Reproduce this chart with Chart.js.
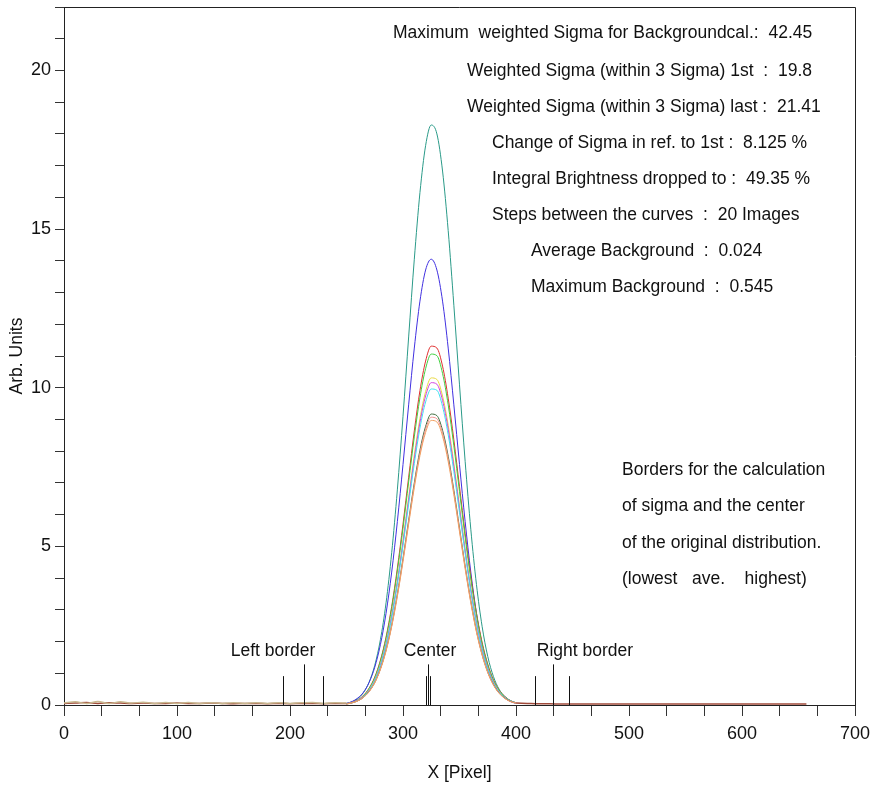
<!DOCTYPE html>
<html>
<head>
<meta charset="utf-8">
<script src="https://cdn.jsdelivr.net/npm/chart.js@4/dist/chart.umd.min.js"></script>
<style>
  html, body { margin: 0; padding: 0; background: #fff; }
  #wrap { width: 876px; height: 788px; }
</style>
</head>
<body>
<div id="wrap"><canvas id="chart" width="876" height="788"></canvas></div>
<script>
// x positions (pixel) of the sampled profile points
const peakX = [250, 255, 260, 265, 270, 275, 280, 285, 290, 295, 300, 305, 310, 315, 320,
  325, 330, 335, 340, 345, 350, 355, 360, 365, 370, 375, 380, 385, 390, 395, 400];

// profiles, one per curve
const tealCurve = [0.05, 0.10, 0.20, 0.39, 0.72, 1.25, 2.06, 3.22, 4.80, 6.78, 9.10, 11.60, 14.05, 16.15, 17.63,
  18.28, 18.00, 16.83, 14.95, 12.60, 10.09, 7.68, 5.54, 3.80, 2.48, 1.53, 0.90, 0.50, 0.27, 0.13, 0.06];
const blueCurve = [0.05, 0.11, 0.22, 0.40, 0.71, 1.19, 1.90, 2.89, 4.19, 5.78, 7.58, 9.46, 11.25, 12.73, 13.71,
  14.05, 13.71, 12.73, 11.25, 9.46, 7.58, 5.78, 4.19, 2.89, 1.90, 1.19, 0.71, 0.40, 0.22, 0.11, 0.05];
const redCurve = [0.04, 0.08, 0.16, 0.30, 0.53, 0.88, 1.41, 2.14, 3.11, 4.31, 5.70, 7.18, 8.64, 9.91, 10.84,
  11.31, 11.25, 10.68, 9.67, 8.36, 6.88, 5.41, 4.06, 2.90, 1.98, 1.29, 0.80, 0.47, 0.27, 0.14, 0.07];
const greenCurve = [0.04, 0.08, 0.16, 0.29, 0.52, 0.86, 1.38, 2.10, 3.04, 4.22, 5.57, 7.03, 8.45, 9.69, 10.60,
  11.06, 11.01, 10.45, 9.46, 8.17, 6.73, 5.29, 3.97, 2.84, 1.93, 1.26, 0.78, 0.46, 0.26, 0.14, 0.07];
const yellowCurve = [0.04, 0.08, 0.15, 0.27, 0.48, 0.80, 1.28, 1.95, 2.84, 3.93, 5.20, 6.55, 7.88, 9.03, 9.88,
  10.31, 10.26, 9.74, 8.82, 7.62, 6.28, 4.93, 3.70, 2.64, 1.80, 1.17, 0.73, 0.43, 0.24, 0.13, 0.07];
const magentaCurve = [0.04, 0.08, 0.15, 0.27, 0.47, 0.79, 1.26, 1.93, 2.80, 3.87, 5.12, 6.46, 7.76, 8.90, 9.74,
  10.16, 10.11, 9.60, 8.69, 7.51, 6.19, 4.86, 3.64, 2.61, 1.78, 1.16, 0.72, 0.42, 0.24, 0.13, 0.07];
const cyanCurve = [0.04, 0.07, 0.14, 0.26, 0.46, 0.78, 1.24, 1.89, 2.74, 3.80, 5.02, 6.33, 7.61, 8.73, 9.55,
  9.96, 9.92, 9.41, 8.52, 7.36, 6.07, 4.77, 3.57, 2.55, 1.74, 1.13, 0.70, 0.42, 0.24, 0.13, 0.07];
const darkGreenCurve = [0.03, 0.07, 0.13, 0.24, 0.43, 0.71, 1.14, 1.74, 2.52, 3.50, 4.62, 5.82, 7.00, 8.03, 8.78,
  9.17, 9.12, 8.66, 7.84, 6.77, 5.58, 4.38, 3.29, 2.35, 1.60, 1.04, 0.65, 0.38, 0.22, 0.12, 0.06];
const pinkCurve = [0.03, 0.07, 0.13, 0.24, 0.42, 0.71, 1.13, 1.72, 2.50, 3.46, 4.57, 5.76, 6.93, 7.94, 8.69,
  9.07, 9.02, 8.57, 7.76, 6.70, 5.52, 4.34, 3.25, 2.32, 1.59, 1.03, 0.64, 0.38, 0.21, 0.11, 0.06];
const orangeCurve = [0.03, 0.07, 0.13, 0.24, 0.42, 0.70, 1.12, 1.70, 2.47, 3.42, 4.52, 5.70, 6.85, 7.86, 8.59,
  8.97, 8.92, 8.47, 7.67, 6.63, 5.46, 4.29, 3.22, 2.30, 1.57, 1.02, 0.63, 0.37, 0.21, 0.11, 0.06];

// background on both sides of the peak
const baseLeftX = [0, 10, 20, 30, 40, 50, 60, 70, 80, 90, 100, 110, 120, 130, 140, 150, 160, 170, 180, 190,
  200, 210, 220, 230, 240, 250];
const baseLeft = [0.05, 0.06, 0.08, 0.05, 0.07, 0.06, 0.05, 0.06, 0.05, 0.05, 0.06, 0.05, 0.05, 0.06, 0.05,
  0.04, 0.05, 0.05, 0.04, 0.05, 0.04, 0.05, 0.05, 0.04, 0.05, 0.05];
const baseLeftNoise = [0.06, 0.10, 0.05, 0.11, 0.05, 0.10, 0.06, 0.09, 0.05, 0.08, 0.05, 0.08, 0.05, 0.07, 0.05,
  0.07, 0.05, 0.07, 0.05, 0.07, 0.05, 0.07, 0.08, 0.05, 0.07, 0.06];
const baseRightX = [400, 410, 420, 430, 440, 450, 460, 470, 480, 490, 500, 510, 520, 530, 540, 550, 560, 570,
  580, 590, 600, 610, 620, 630, 640, 650, 657];
const baseRight = [0.06, 0.05, 0.04, 0.04, 0.03, 0.03, 0.03, 0.03, 0.03, 0.03, 0.03, 0.03, 0.03, 0.03, 0.03,
  0.03, 0.03, 0.03, 0.03, 0.03, 0.03, 0.03, 0.03, 0.03, 0.03, 0.03, 0.03];

// border markers (lowest, ave, highest)
const leftBorderX = [194, 212, 229];
const centerX = [320, 322.4, 324];
const rightBorderX = [417, 433, 447];
const markerHeights = [0.91, 1.28, 0.91];

const xTickLabels = [0, 100, 200, 300, 400, 500, 600, 700];
const yTickLabels = [0, 5, 10, 15, 20];

const infoLines = [
  ["Maximum  weighted Sigma for Backgroundcal.:  42.45", 393, 33],
  ["Weighted Sigma (within 3 Sigma) 1st  :  19.8", 467, 71],
  ["Weighted Sigma (within 3 Sigma) last :  21.41", 467, 107],
  ["Change of Sigma in ref. to 1st :  8.125 %", 492, 143],
  ["Integral Brightness dropped to :  49.35 %", 492, 179],
  ["Steps between the curves  :  20 Images", 492, 215],
  ["Average Background  :  0.024", 531, 251],
  ["Maximum Background  :  0.545", 531, 287],
  ["Borders for the calculation", 622, 470],
  ["of sigma and the center", 622, 506],
  ["of the original distribution.", 622, 543],
  ["(lowest   ave.    highest)", 622, 579]
];

const FONT = '"Liberation Sans", Arial, sans-serif';
const TEXT_SIZE = 17.5;

function pts(xs, ys) {
  return xs.map((x, i) => ({ x: x, y: ys[i] }));
}

function curve(ys, color, xs, width) {
  return {
    data: pts(xs || peakX, ys),
    borderColor: color,
    borderWidth: width || 1,
    pointRadius: 0,
    fill: false,
    cubicInterpolationMode: "monotone"
  };
}

const datasets = [
  curve(orangeCurve, "#f0a060"),
  curve(pinkCurve, "#f09090"),
  curve(darkGreenCurve, "#3d6b3d"),
  curve(cyanCurve, "#40e0f0"),
  curve(magentaCurve, "#d040e0"),
  curve(yellowCurve, "#e8d840"),
  curve(greenCurve, "#40d040"),
  curve(redCurve, "#e03030"),
  curve(blueCurve, "#4030e0"),
  curve(tealCurve, "#2a9a88"),
  curve(baseLeftNoise, "#c8b890", baseLeftX, 1.5),
  curve(baseLeft, "#a04a3a", baseLeftX, 1.5),
  curve(baseRight, "#a04a3a", baseRightX, 1.5)
];

// minor ticks every 1/3 of a hundred on x, every unit on y
const xTickValues = [];
for (let i = 0; i <= 21; i++) xTickValues.push(i * 700 / 21);

const overlay = {
  id: "overlay",
  afterDraw(chart) {
    const ctx = chart.ctx;
    const a = chart.chartArea;
    const xs = chart.scales.x;
    const ys = chart.scales.y;
    ctx.save();
    // frame top and right
    ctx.strokeStyle = "#222";
    ctx.lineWidth = 1;
    ctx.beginPath();
    ctx.moveTo(a.left, a.top + 0.5);
    ctx.lineTo(a.right + 0.5, a.top + 0.5);
    ctx.lineTo(a.right + 0.5, a.bottom);
    ctx.stroke();

    // border markers
    ctx.strokeStyle = "#111";
    [leftBorderX, centerX, rightBorderX].forEach((group) => {
      group.forEach((x, i) => {
        const px = Math.round(xs.getPixelForValue(x)) + 0.5;
        ctx.beginPath();
        ctx.moveTo(px, ys.getPixelForValue(0));
        ctx.lineTo(px, ys.getPixelForValue(markerHeights[i]));
        ctx.stroke();
      });
    });

    ctx.fillStyle = "#111";
    ctx.font = TEXT_SIZE + "px " + FONT;
    ctx.textBaseline = "middle";
    ctx.textAlign = "center";
    const ly = ys.getPixelForValue(1.7);
    ctx.fillText("Left border", xs.getPixelForValue(185), ly);
    ctx.fillText("Center", xs.getPixelForValue(324), ly);
    ctx.fillText("Right border", xs.getPixelForValue(461), ly);

    ctx.textAlign = "left";
    infoLines.forEach((l) => ctx.fillText(l[0], l[1], l[2]));
    ctx.restore();
  }
};

new Chart(document.getElementById("chart"), {
  type: "line",
  data: { datasets: datasets },
  options: {
    responsive: false,
    animation: false,
    events: [],
    layout: { padding: { top: 7, right: 21, left: 0, bottom: 0 } },
    plugins: { legend: { display: false }, tooltip: { enabled: false } },
    scales: {
      x: {
        type: "linear",
        min: 0,
        max: 700,
        afterFit: (s) => { s.height = 83; s.paddingRight = 0; s.paddingLeft = 0; },
        afterBuildTicks: (s) => { s.ticks = xTickValues.map((v) => ({ value: v })); },
        ticks: {
          autoSkip: false,
          maxRotation: 0,
          padding: 7,
          color: "#111",
          font: { family: FONT, size: 18 },
          callback: (v) => {
            const r = Math.round(v);
            return xTickLabels.includes(r) && Math.abs(v - r) < 0.01 ? String(r) : "";
          }
        },
        grid: { drawOnChartArea: false, tickLength: 11, color: "#333" },
        border: { color: "#222", width: 1 },
        title: {
          display: true,
          text: "X [Pixel]",
          color: "#111",
          font: { family: FONT, size: TEXT_SIZE },
          padding: { top: 0, bottom: 4 }
        }
      },
      y: {
        min: 0,
        max: 22,
        afterFit: (s) => { s.width = 64; s.paddingTop = 0; s.paddingBottom = 0; },
        ticks: {
          stepSize: 1,
          autoSkip: false,
          padding: 4,
          color: "#111",
          font: { family: FONT, size: 18 },
          callback: (v) => (yTickLabels.includes(v) ? String(v) : "")
        },
        grid: { drawOnChartArea: false, tickLength: 9, color: "#333" },
        border: { color: "#222", width: 1 },
        title: {
          display: true,
          text: "Arb. Units",
          color: "#111",
          font: { family: FONT, size: TEXT_SIZE },
          padding: { top: 7, bottom: 0 }
        }
      }
    }
  },
  plugins: [overlay]
});
</script>
</body>
</html>
